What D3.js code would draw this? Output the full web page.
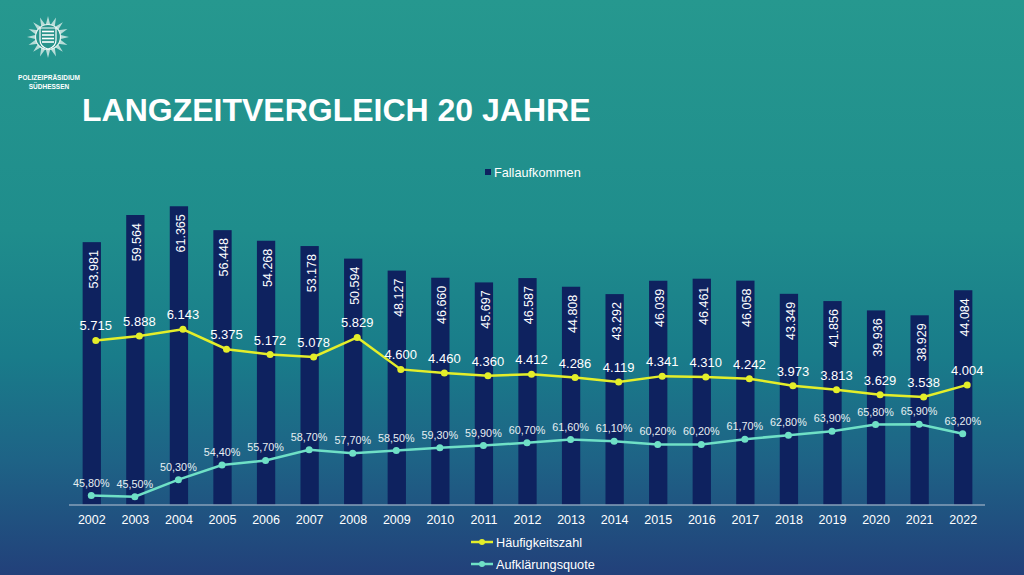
<!DOCTYPE html>
<html>
<head>
<meta charset="utf-8">
<script src="https://cdn.jsdelivr.net/npm/d3@7/dist/d3.min.js"></script>
<style>
    html, body { margin: 0; padding: 0; }
    body { width: 1024px; height: 575px; overflow: hidden; }
    svg text { font-family: "Liberation Sans", Arial, sans-serif; }
</style>
</head>
<body>
<div id="chart"></div>
<script>
// Data
var years = ["2002", "2003", "2004", "2005", "2006", "2007", "2008", "2009", "2010", "2011",
    "2012", "2013", "2014", "2015", "2016", "2017", "2018", "2019", "2020", "2021", "2022"];
var fallaufkommen = [53981, 59564, 61365, 56448, 54268, 53178, 50594, 48127, 46660, 45697,
    46587, 44808, 43292, 46039, 46461, 46058, 43349, 41856, 39936, 38929, 44084];
var haeufigkeitszahl = [5715, 5888, 6143, 5375, 5172, 5078, 5829, 4600, 4460, 4360,
    4412, 4286, 4119, 4341, 4310, 4242, 3973, 3813, 3629, 3538, 4004];
var aufklaerungsquote = [45.8, 45.5, 50.3, 54.4, 55.7, 58.7, 57.7, 58.5, 59.3, 59.9,
    60.7, 61.6, 61.1, 60.2, 60.2, 61.7, 62.8, 63.9, 65.8, 65.9, 63.2];

var W = 1024, H = 575;
var barColor = "#0e225f";
var yellow = "#e4ee2a";
var teal = "#6fe0c6";

var svg = d3.select("#chart").append("svg")
    .attr("width", W)
    .attr("height", H);

// Background gradient
var defs = svg.append("defs");
var grad = defs.append("linearGradient")
    .attr("id", "bg")
    .attr("x1", 0).attr("y1", 0).attr("x2", 0).attr("y2", 1);
[[0, "#26988f"], [0.4, "#1f8d8c"], [0.62, "#197c8a"], [0.8, "#1e6386"], [1, "#22407a"]]
    .forEach(function (s) {
        grad.append("stop").attr("offset", s[0]).attr("stop-color", s[1]);
    });

svg.append("rect")
    .attr("width", W)
    .attr("height", H)
    .attr("fill", "url(#bg)");

// Logo (police star with shield)
var logo = svg.append("g").attr("transform", "translate(48,37)");
var starPts = [];
for (var i = 0; i < 32; i++) {
    var a = i * Math.PI / 16 - Math.PI / 2;
    var r = (i % 2 === 0) ? 21 : 12;
    starPts.push([Math.cos(a) * r, Math.sin(a) * r]);
}
logo.append("polygon")
    .attr("points", starPts.map(function (p) { return p.join(","); }).join(" "))
    .attr("fill", "#dceeea")
    .attr("opacity", 0.8);
logo.append("circle")
    .attr("r", 12.5)
    .attr("fill", "#2a948c")
    .attr("stroke", "#e8f4f1")
    .attr("stroke-width", 1.2);
logo.append("path")
    .attr("d", "M-8,-9 L8,-9 L8,3 Q8,10 0,12 Q-8,10 -8,3 Z")
    .attr("fill", "#2a948c")
    .attr("stroke", "#ffffff")
    .attr("stroke-width", 1.2);
[-5.5, -2, 1.5, 5].forEach(function (yy) {
    logo.append("line")
        .attr("x1", -6).attr("x2", 6)
        .attr("y1", yy).attr("y2", yy)
        .attr("stroke", "#ffffff")
        .attr("stroke-width", 1.6);
});
svg.append("text")
    .attr("x", 49).attr("y", 80)
    .attr("text-anchor", "middle")
    .attr("fill", "#ffffff")
    .attr("font-size", "6.5px")
    .attr("font-weight", "bold")
    .text("POLIZEIPRÄSIDIUM");
svg.append("text")
    .attr("x", 49).attr("y", 89)
    .attr("text-anchor", "middle")
    .attr("fill", "#ffffff")
    .attr("font-size", "6.5px")
    .attr("font-weight", "bold")
    .text("SÜDHESSEN");

// Title
svg.append("text")
    .attr("x", 82)
    .attr("y", 121)
    .attr("fill", "#ffffff")
    .attr("font-size", "32px")
    .attr("font-weight", "bold")
    .text("LANGZEITVERGLEICH 20 JAHRE");

// Scales
var x = d3.scaleBand()
    .domain(years)
    .range([70, 985])
    .paddingInner(0.58)
    .paddingOuter(0.29);

var yBar = d3.scaleLinear()
    .domain([0, 65000])
    .range([504.5, 504.5 - 65000 * 0.00486]);

var yHz = d3.scaleLinear()
    .domain([0, 7000])
    .range([489, 489 - 7000 * 0.026]);

var yAq = d3.scaleLinear()
    .domain([40, 70])
    .range([516.2, 516.2 - 30 * 3.55]);

function cx(d) { return x(d) + x.bandwidth() / 2; }

// Bars
svg.append("g")
    .selectAll("rect")
    .data(fallaufkommen)
    .enter()
    .append("rect")
    .attr("x", function (d, i) { return x(years[i]); })
    .attr("y", function (d) { return yBar(d); })
    .attr("width", x.bandwidth())
    .attr("height", function (d) { return yBar(0) - yBar(d); })
    .attr("fill", barColor);

var fmtDe = d3.formatLocale({ decimal: ",", thousands: ".", grouping: [3], currency: ["", " €"] });
var fmtInt = fmtDe.format(",d");
var fmtPct = function (v) { return fmtDe.format(".2f")(v) + "%"; };

svg.append("g")
    .selectAll("text")
    .data(fallaufkommen)
    .enter()
    .append("text")
    .attr("transform", function (d, i) {
        return "translate(" + (cx(years[i]) + 1.5) + "," + (yBar(d) + 8) + ") rotate(-90)";
    })
    .attr("text-anchor", "end")
    .attr("dy", "0.35em")
    .attr("fill", "#ffffff")
    .attr("font-size", "12.5px")
    .text(function (d) { return fmtInt(d); });

// X axis
var xAxis = svg.append("g")
    .attr("transform", "translate(0," + yBar(0) + ")")
    .call(d3.axisBottom(x).tickSize(0).tickPadding(11));
xAxis.select(".domain")
    .attr("d", "M69,0.5H985")
    .attr("stroke", "#b9c6d6")
    .attr("stroke-width", 1.2);
xAxis.selectAll("text")
    .attr("fill", "#ffffff")
    .attr("font-size", "12.5px")
    .style("font-family", "'Liberation Sans', Arial, sans-serif");

// Häufigkeitszahl line (slightly shifted to the right in the slide)
var hzX = function (i) { return cx(years[i]) + 4; };
var hzLine = d3.line()
    .x(function (d, i) { return hzX(i); })
    .y(function (d) { return yHz(d); });

svg.append("path")
    .datum(haeufigkeitszahl)
    .attr("d", hzLine)
    .attr("fill", "none")
    .attr("stroke", yellow)
    .attr("stroke-width", 2.5);

svg.append("g")
    .selectAll("circle")
    .data(haeufigkeitszahl)
    .enter()
    .append("circle")
    .attr("cx", function (d, i) { return hzX(i); })
    .attr("cy", function (d) { return yHz(d); })
    .attr("r", 3.5)
    .attr("fill", yellow);

svg.append("g")
    .selectAll("text")
    .data(haeufigkeitszahl)
    .enter()
    .append("text")
    .attr("x", function (d, i) { return hzX(i); })
    .attr("y", function (d) { return yHz(d) - 10; })
    .attr("text-anchor", "middle")
    .attr("fill", "#ffffff")
    .attr("font-size", "13px")
    .text(function (d) { return fmtInt(d); });

// Aufklärungsquote line
var aqLine = d3.line()
    .x(function (d, i) { return cx(years[i]) - 0.5; })
    .y(function (d) { return yAq(d); });

svg.append("path")
    .datum(aufklaerungsquote)
    .attr("d", aqLine)
    .attr("fill", "none")
    .attr("stroke", teal)
    .attr("stroke-width", 2.5);

svg.append("g")
    .selectAll("circle")
    .data(aufklaerungsquote)
    .enter()
    .append("circle")
    .attr("cx", function (d, i) { return cx(years[i]) - 0.5; })
    .attr("cy", function (d) { return yAq(d); })
    .attr("r", 3.5)
    .attr("fill", teal);

svg.append("g")
    .selectAll("text")
    .data(aufklaerungsquote)
    .enter()
    .append("text")
    .attr("x", function (d, i) { return cx(years[i]) - 0.5; })
    .attr("y", function (d) { return yAq(d) - 9; })
    .attr("text-anchor", "middle")
    .attr("fill", "#e6eef2")
    .attr("font-size", "10.8px")
    .text(function (d) { return fmtPct(d); });

// Legends
var legBar = svg.append("g").attr("transform", "translate(485,172)");
legBar.append("rect")
    .attr("x", 0).attr("y", -3)
    .attr("width", 6).attr("height", 6)
    .attr("fill", barColor);
legBar.append("text")
    .attr("x", 9).attr("y", 4.5)
    .attr("fill", "#ffffff")
    .attr("font-size", "12.7px")
    .text("Fallaufkommen");

var lineLegends = [["Häufigkeitszahl", yellow, 542], ["Aufklärungsquote", teal, 564]];
lineLegends.forEach(function (l) {
    var g = svg.append("g").attr("transform", "translate(471," + l[2] + ")");
    g.append("line")
        .attr("x1", 0).attr("x2", 22)
        .attr("stroke", l[1])
        .attr("stroke-width", 2.5);
    g.append("circle")
        .attr("cx", 11).attr("r", 3)
        .attr("fill", l[1]);
    g.append("text")
        .attr("x", 25).attr("y", 4.5)
        .attr("fill", "#ffffff")
        .attr("font-size", "12.7px")
        .text(l[0]);
});
</script>
</body>
</html>
